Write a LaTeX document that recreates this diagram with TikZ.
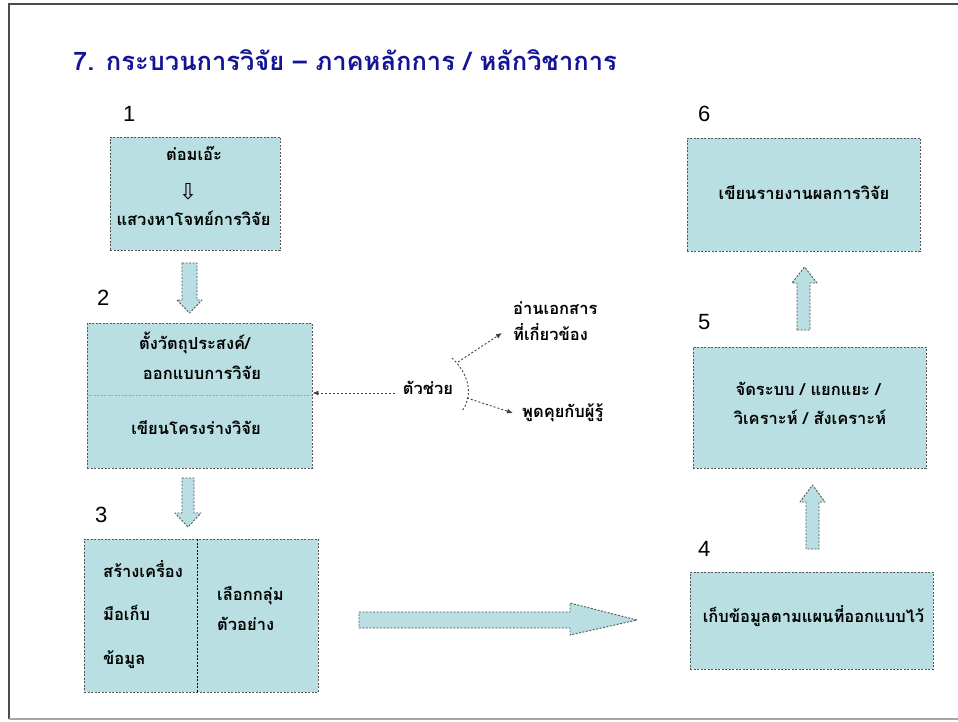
\documentclass[tikz,border=0pt]{standalone}
\usepackage{fontspec}
\setmainfont{Loma}[Script=Thai]
\newfontfamily\numfont{Liberation Sans}
\newfontfamily\symfont{DejaVu Sans}
\usetikzlibrary{arrows.meta}
\definecolor{boxfill}{RGB}{185,223,227}
\definecolor{boxline}{RGB}{85,85,85}
\definecolor{titleblue}{RGB}{20,20,150}
\tikzset{
  box/.style={draw=boxline, fill=boxfill, line width=0.9pt, dash pattern=on 2pt off 1.5pt, inner sep=0pt},
  blockarrow/.style={draw=boxline, fill=boxfill, line width=0.9pt, dash pattern=on 2pt off 1.5pt, line join=round},
  txt/.style={font=\bfseries\fontsize{16.5}{19}\selectfont, text=black, inner sep=0pt, anchor=mid},
  txtl/.style={txt, anchor=mid west},
  num/.style={font=\numfont\fontsize{22}{24}\selectfont, inner sep=0pt, anchor=mid west},
  helpline/.style={draw=black!75, line width=0.9pt, dash pattern=on 2pt off 2pt},
  helparrow/.style={helpline, -{Latex[length=6pt,width=5pt]}}
}
\begin{document}
\begin{tikzpicture}[x=1pt,y=-1pt]
\useasboundingbox (0,0) rectangle (958,722);
% frame
\draw[draw=black!70, line width=1.5pt] (9,719) -- (9,4) -- (958,4);
\draw[draw=black!35, line width=1.5pt] (9,719) -- (958,719);
% title
\node[font=\bfseries\fontsize{25.5}{30}\selectfont, text=titleblue, inner sep=0pt, anchor=mid west] (title) at (73,68) {7. กระบวนการวิจัย – ภาคหลักการ / หลักวิชาการ};
% numbers
\node[num] (n1) at (123,118.5) {1};
\node[num] (n2) at (97,303) {2};
\node[num] (n3) at (95,520) {3};
\node[num] (n4) at (698,554) {4};
\node[num] (n5) at (698,327) {5};
\node[num] (n6) at (698,119) {6};
% boxes
\node[box, minimum width=170pt, minimum height=113pt] (b1) at (195,193.5) {};
\node[box, minimum width=225pt, minimum height=145pt] (b2) at (199.5,395.5) {};
\node[box, minimum width=234pt, minimum height=153pt] (b3) at (201,615.5) {};
\node[box, minimum width=243pt, minimum height=97pt] (b4) at (811.5,620.5) {};
\node[box, minimum width=233pt, minimum height=121pt] (b5) at (809.5,407.5) {};
\node[box, minimum width=233pt, minimum height=113pt] (b6) at (803.5,194.5) {};
% dividers
\draw[draw=black!35, line width=0.9pt, dash pattern=on 2pt off 1.5pt] (b2.west) -- (b2.east);
\draw[draw=black, line width=0.9pt, dash pattern=on 2pt off 1.5pt] (197,539) -- (197,692);
% box 1 text
\node[txt] (t1a) at (194,158) {ต่อมเอ๊ะ};
\node[font=\symfont\fontsize{22}{24}\selectfont, inner sep=0pt] (t1arr) at (188,192) {⇩};
\node[txt] (t1b) at (193.5,223) {แสวงหาโจทย์การวิจัย};
% box 2 text
\node[txt] (t2a) at (194.5,347) {ตั้งวัตถุประสงค์/};
\node[txt] (t2b) at (202,377) {ออกแบบการวิจัย};
\node[txt] (t2c) at (196,432) {เขียนโครงร่างวิจัย};
% box 3 text
\node[txtl] (t3a) at (103,575) {สร้างเครื่อง};
\node[txtl] (t3b) at (103,618) {มือเก็บ};
\node[txtl] (t3c) at (103,662) {ข้อมูล};
\node[txtl] (t3d) at (217,598) {เลือกกลุ่ม};
\node[txtl] (t3e) at (217,628) {ตัวอย่าง};
% box 4,5,6 text
\node[txt] (t4) at (813.5,620) {เก็บข้อมูลตามแผนที่ออกแบบไว้};
\node[txt] (t5a) at (808,393) {จัดระบบ / แยกแยะ /};
\node[txt] (t5b) at (810,422) {วิเคราะห์ / สังเคราะห์};
\node[txt] (t6) at (804,197) {เขียนรายงานผลการวิจัย};
% helper
\node[txt] (help) at (428,392) {ตัวช่วย};
\node[txtl] (h1a) at (513,312) {อ่านเอกสาร};
\node[txtl] (h1b) at (513,338) {ที่เกี่ยวข้อง};
\node[txtl] (h2) at (522,415) {พูดคุยกับผู้รู้};
\coordinate (hs) at (395,393);
\draw[helparrow] (hs) -- (b2.east |- hs);
\draw[helpline] (452,358) .. controls (470,375) and (473,396) .. (462,411);
\coordinate (a1s) at (458,362);
\coordinate (a1e) at (502,333);
\coordinate (a2s) at (467,398);
\coordinate (a2e) at (513,413);
\draw[helparrow] (a1s) -- (a1e);
\draw[helparrow] (a2s) -- (a2e);
% block arrows
\draw[blockarrow] (182,263) -- (197,263) -- (197,300) -- (202,300) -- (189.5,313) -- (177,300) -- (182,300) -- cycle;
\draw[blockarrow] (182,478) -- (194,478) -- (194,513) -- (201,513) -- (188,527) -- (175,513) -- (182,513) -- cycle;
\draw[blockarrow] (359,612) -- (570,612) -- (570,603) -- (637,620) -- (570,635) -- (570,628) -- (359,628) -- cycle;
\draw[blockarrow] (806,549) -- (806,502) -- (800,502) -- (812.5,485) -- (825,502) -- (819,502) -- (819,549) -- cycle;
\draw[blockarrow] (797,330) -- (797,283) -- (792,283) -- (804.5,267) -- (817,283) -- (810,283) -- (810,330) -- cycle;
\end{tikzpicture}
\end{document}
